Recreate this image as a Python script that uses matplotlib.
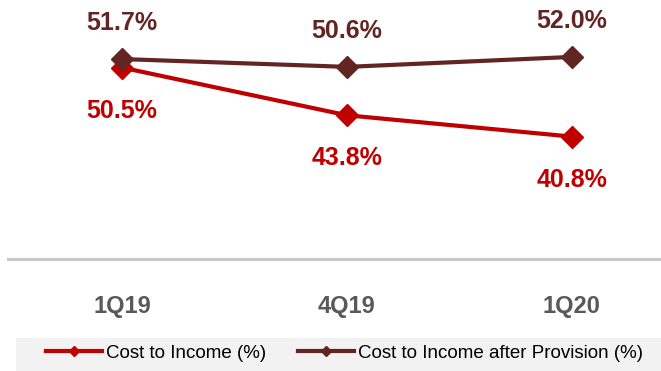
import matplotlib
matplotlib.use('Agg')
import matplotlib.pyplot as plt
from matplotlib.patches import Rectangle

quarters = ['1Q19', '4Q19', '1Q20']
cost_income = [50.5, 43.8, 40.8]
cost_income_prov = [51.7, 50.6, 52.0]

red = '#C00000'
maroon = '#632523'

plt.rcParams['font.family'] = ['Liberation Sans', 'DejaVu Sans']

fig = plt.figure(figsize=(6.61, 3.71), dpi=100)
ax = fig.add_axes([8/661, 1 - 259/371, 653/661, 259/371])

x = list(range(len(quarters)))
ax.plot(x, cost_income, color=red, lw=3, marker='D', ms=11,
        label='Cost to Income (%)', zorder=3)
ax.plot(x, cost_income_prov, color=maroon, lw=3, marker='D', ms=11,
        label='Cost to Income after Provision (%)', zorder=4)

for xi, v in zip(x, cost_income):
  ax.annotate(f'{v:.1f}%', (xi, v), xytext=(0, -31), textcoords='offset points',
              ha='center', va='center', fontsize=18, fontweight='bold', color=red)
for xi, v in zip(x, cost_income_prov):
  ax.annotate(f'{v:.1f}%', (xi, v), xytext=(0, 26), textcoords='offset points',
              ha='center', va='center', fontsize=18, fontweight='bold', color=maroon)

ax.set_xlim(-0.507, 2.396)
ax.set_ylim(23.6, 60.0)
ax.set_xticks(x)
ax.set_xticklabels(quarters, fontsize=17, fontweight='bold', color='#595959')
ax.tick_params(axis='x', length=0, pad=26)
ax.set_yticks([])
for s in ['top', 'left', 'right']:
  ax.spines[s].set_visible(False)
ax.spines['bottom'].set_color('#c8c8c8')
ax.spines['bottom'].set_linewidth(2.2)

# legend box
fig.patches.append(Rectangle((16/661, 0), 1 - 16/661, 33/371, transform=fig.transFigure,
                             facecolor='#f2f2f2', edgecolor='none', zorder=0))
handles, labels = ax.get_legend_handles_labels()
leg = fig.legend(handles, labels, loc='center left', bbox_to_anchor=(46/661, 1 - 353/371),
                 ncol=2, frameon=False, fontsize=13.5, handlelength=3.0, handletextpad=0.2,
                 columnspacing=1.7, borderaxespad=0, borderpad=0, markerscale=0.45)

fig.savefig('out.png', dpi=100)
